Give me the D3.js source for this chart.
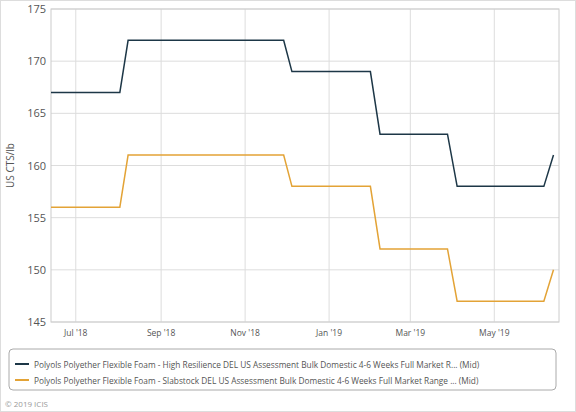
<!DOCTYPE html><html><head><meta charset="utf-8"><script src="https://d3js.org/d3.v7.min.js"></script>
<style>body{margin:0;background:#fff}svg{font-family:"Open Sans",sans-serif}</style></head><body><svg id="c" width="576" height="412"></svg>
<script>
const dates=["2018-06-13","2018-08-02","2018-08-08","2018-11-29","2018-12-05","2019-01-31","2019-02-07","2019-03-28","2019-04-04","2019-06-06","2019-06-13"];
const highRes=[167,167,172,172,169,169,163,163,158,158,161];
const slab=[156,156,161,161,158,158,152,152,147,147,150];
const yTicks=[145,150,155,160,165,170,175];
const xTicks=["2018-07-01","2018-09-01","2018-11-01","2019-01-01","2019-03-01","2019-05-01"];
const names=["Polyols Polyether Flexible Foam - High Resilience DEL US Assessment Bulk Domestic 4-6 Weeks Full Market R... (Mid)","Polyols Polyether Flexible Foam - Slabstock DEL US Assessment Bulk Domestic 4-6 Weeks Full Market Range ... (Mid)"];
const colors=["#1d3747","#e3a336"];
const p=d3.timeParse("%Y-%m-%d");
const svg=d3.select("#c");
const L=51,R=559,T=9,B=322;
const x=d3.scaleTime().domain([p("2018-06-13"),p("2019-06-17")]).range([L,R]);
const y=d3.scaleLinear().domain([145,175]).range([B,T]);
svg.append("rect").attr("x",0.5).attr("y",0.5).attr("width",575).attr("height",411).attr("fill","none").attr("stroke","#ddd");
svg.append("g").selectAll("line").data(yTicks).join("line").attr("x1",L).attr("x2",R).attr("y1",d=>y(d)).attr("y2",d=>y(d)).attr("stroke","#ddd");
svg.append("g").selectAll("line").data(xTicks).join("line").attr("x1",d=>x(p(d))).attr("x2",d=>x(p(d))).attr("y1",T).attr("y2",B).attr("stroke","#ddd");
svg.append("rect").attr("x",L).attr("y",T).attr("width",R-L).attr("height",B-T).attr("fill","none").attr("stroke","#ccc");
svg.append("g").selectAll("text").data(yTicks).join("text").attr("x",L-5).attr("y",d=>y(d)+4).attr("text-anchor","end").attr("font-size",11).attr("fill","#555").text(d=>d);
const fmt=d3.timeFormat("%b '%y");
svg.append("g").selectAll("text").data(xTicks).join("text").attr("x",d=>x(p(d))).attr("y",B+14).attr("text-anchor","middle").attr("font-size",8.5).attr("fill","#555").text(d=>fmt(p(d)));
svg.append("text").attr("transform",`translate(14,${(T+B)/2}) rotate(-90)`).attr("text-anchor","middle").attr("font-size",10).attr("fill","#555").text("US CTS/lb");
const line=d3.line().x((d,i)=>x(p(dates[i]))).y(d=>y(d));
[highRes,slab].forEach((s,i)=>svg.append("path").attr("d",line(s)).attr("fill","none").attr("stroke",colors[i]).attr("stroke-width",1.5));
svg.append("rect").attr("x",9).attr("y",349).attr("width",547).attr("height",41).attr("rx",4).attr("fill","none").attr("stroke","#aaa");
names.forEach((n,i)=>{const yy=364+i*16;
svg.append("line").attr("x1",15).attr("x2",29).attr("y1",yy).attr("y2",yy).attr("stroke",colors[i]).attr("stroke-width",2);
svg.append("text").attr("x",34).attr("y",yy+3.5).attr("font-size",8.3).attr("fill","#555").text(n);});
svg.append("text").attr("x",5).attr("y",407).attr("font-size",8).attr("fill","#999").text("© 2019 ICIS");
</script></body></html>
